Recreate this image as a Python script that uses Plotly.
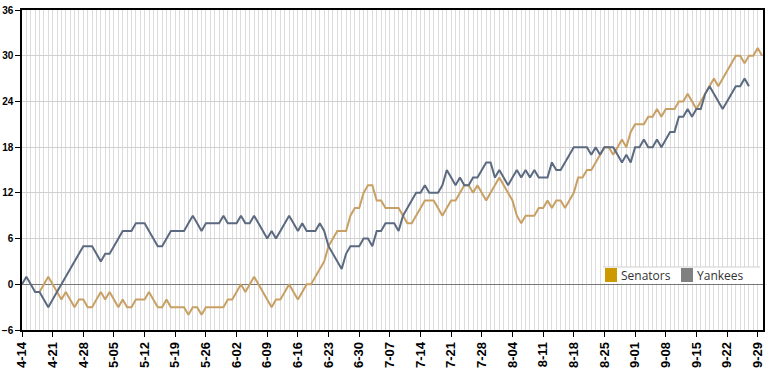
import pandas as pd
import plotly.graph_objects as go

# Season 1924, games above .500 by day
SEN_START = "1924-04-18"
YAN_START = "1924-04-14"

senators = [
    -1, 0, 1, 0, -1, -2,
    -1, -2, -3, -2, -2, -3, -3, -2, -1, -2,
    -1, -2, -3, -2, -3, -3, -2, -2, -2, -1,
    -2, -3, -3, -2, -3, -3, -3, -3, -4, -3,
    -3, -4, -3, -3, -3, -3, -3, -2, -2, -1,
    0, -1, 0, 1, 0, -1, -2, -3, -2, -2,
    -1, 0, -1, -2, -1, 0, 0, 1, 2, 3,
    5, 6, 7, 7, 7, 9, 10, 10, 12, 13,
    13, 11, 11, 10, 10, 10, 10, 9, 8, 8,
    9, 10, 11, 11, 11, 10, 9, 10, 11, 11,
    12, 13, 13, 12, 13, 12, 11, 12, 13, 14,
    13, 12, 11, 9, 8, 9, 9, 9, 10, 10,
    11, 10, 11, 11, 10, 11, 12, 14, 14, 15,
    15, 16, 17, 18, 18, 17, 18, 19, 18, 20,
    21, 21, 21, 22, 22, 23, 22, 23, 23, 23,
    24, 24, 25, 24, 23, 24, 25, 26, 27, 26,
    27, 28, 29, 30, 30, 29, 30, 30, 31, 30,
]

yankees = [
    0, 1, 0, -1, -1, -2, -3, -2, -1, 0,
    1, 2, 3, 4, 5, 5, 5, 4, 3, 4,
    4, 5, 6, 7, 7, 7, 8, 8, 8, 7,
    6, 5, 5, 6, 7, 7, 7, 7, 8, 9,
    8, 7, 8, 8, 8, 8, 9, 8, 8, 8,
    9, 8, 8, 9, 8, 7, 6, 7, 6, 7,
    8, 9, 8, 7, 8, 7, 7, 7, 8, 7,
    5, 4, 3, 2, 4, 5, 5, 5, 6, 6,
    5, 7, 7, 8, 8, 8, 7, 9, 10, 11,
    12, 12, 13, 12, 12, 12, 13, 15, 14, 13,
    14, 13, 13, 14, 14, 15, 16, 16, 14, 15,
    14, 13, 14, 15, 14, 15, 14, 15, 14, 14,
    14, 16, 15, 15, 16, 17, 18, 18, 18, 18,
    17, 18, 17, 18, 18, 18, 17, 16, 17, 16,
    18, 18, 19, 18, 18, 19, 18, 19, 20, 20,
    22, 22, 23, 22, 23, 23, 25, 26, 25, 24,
    23, 24, 25, 26, 26, 27, 26,
]

y_ticks = [-6, 0, 6, 12, 18, 24, 30, 36]
team_names = ["Senators", "Yankees"]

sen_dates = pd.date_range(SEN_START, periods=len(senators), freq="D")
yan_dates = pd.date_range(YAN_START, periods=len(yankees), freq="D")

SEN_LINE = "#C9A064"
YAN_LINE = "#5B6A80"
KEY_COLORS = ["#CC9900", "#808080"]

fig = go.Figure()
fig.add_trace(go.Scatter(x=sen_dates, y=senators, mode="lines",
                         line=dict(color=SEN_LINE, width=2), name=team_names[0]))
fig.add_trace(go.Scatter(x=yan_dates, y=yankees, mode="lines",
                         line=dict(color=YAN_LINE, width=2), name=team_names[1]))

# plot area in pixels: x 22..763, y 10..330
def px_x(p):
    return (p - 22) / 741.0

def px_y(p):
    return (330 - p) / 320.0

shapes = [
    dict(type="rect", xref="paper", yref="paper", layer="above",
         x0=px_x(603), x1=px_x(760), y0=px_y(283.5), y1=px_y(267),
         fillcolor="white", line=dict(width=0)),
    dict(type="line", xref="paper", yref="paper", layer="above",
         x0=px_x(603), x1=px_x(760), y0=px_y(267), y1=px_y(267),
         line=dict(color="#D0D0D0", width=1)),
]
annotations = []
key_left = [605, 681]
for name, col, left in zip(team_names, KEY_COLORS, key_left):
    shapes.append(dict(type="rect", xref="paper", yref="paper", layer="above",
                       x0=px_x(left), x1=px_x(left + 12), y0=px_y(282), y1=px_y(268),
                       fillcolor=col, line=dict(width=0)))
    annotations.append(dict(xref="paper", yref="paper", x=px_x(left + 14), y=px_y(275),
                            xanchor="left", yanchor="middle", showarrow=False,
                            text=name, font=dict(family="Open Sans", size=12, color="#333")))

fig.update_layout(
    width=772, height=370,
    margin=dict(l=22, r=9, t=10, b=40, autoexpand=False),
    plot_bgcolor="white", paper_bgcolor="white",
    showlegend=False,
    shapes=shapes, annotations=annotations,
    xaxis=dict(
        type="date", automargin=False,
        range=["1924-04-14", "1924-09-30 05:00"],
        tick0="1924-04-14", dtick=7 * 86400000,
        tickformat="%-m-%d", tickangle=-90,
        tickfont=dict(family="Liberation Sans, Arial", size=13, color="black", weight="bold"),
        ticks="outside", ticklen=5, tickcolor="black", tickwidth=1,
        showline=True, linecolor="black", linewidth=1.5, mirror=True,
        showgrid=True, gridcolor="#DCDCDC", gridwidth=1,
        minor=dict(dtick=86400000, tick0="1924-04-14", showgrid=True,
                   gridcolor="#DCDCDC", gridwidth=1, ticks=""),
        zeroline=False,
    ),
    yaxis=dict(
        automargin=False,
        range=[-6, 36], tickvals=y_ticks,
        tickfont=dict(family="Liberation Sans, Arial", size=10, color="black", weight="bold"),
        ticks="outside", ticklen=5, tickcolor="black", tickwidth=1,
        showline=True, linecolor="black", linewidth=1.5, mirror=True,
        showgrid=True, gridcolor="#D0D0D0", gridwidth=1,
        zeroline=True, zerolinecolor="#777777", zerolinewidth=1,
    ),
)

fig.write_html("out.html", config={"displayModeBar": False},
               post_script="document.body.style.margin='0';document.body.style.padding='0';")
